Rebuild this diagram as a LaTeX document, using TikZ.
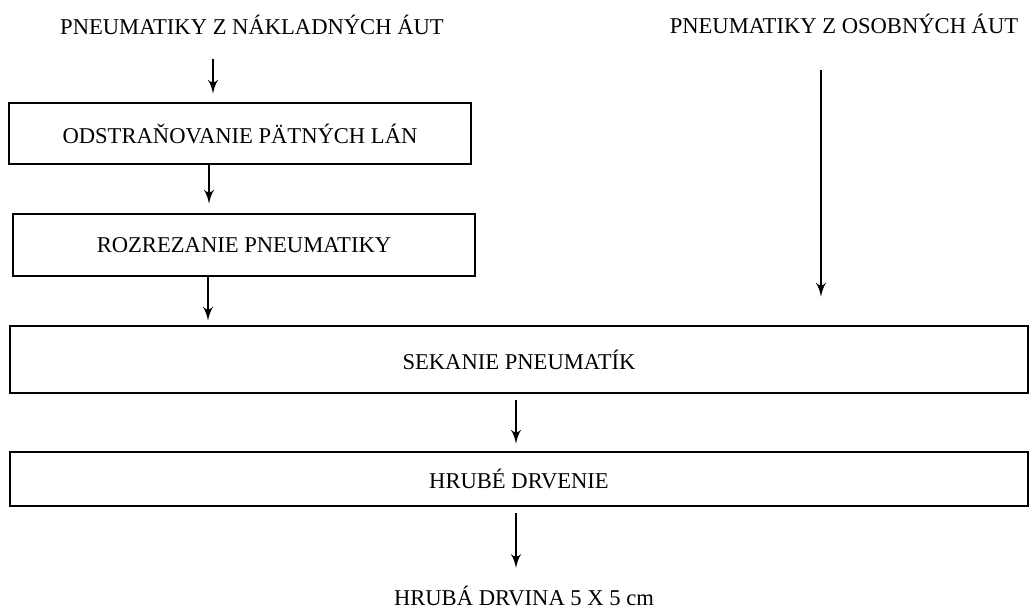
\documentclass[tikz,border=0pt]{standalone}
\usepackage{fontspec}
\setmainfont{Liberation Serif}
\usetikzlibrary{arrows}

\begin{document}
\begin{tikzpicture}[x=0.5pt,y=-0.5pt,>=latex',
  box/.style={draw,line width=1.3pt,inner sep=0pt},
  flow/.style={->,line width=1.4pt},
  font=\fontsize{11.3}{13}\selectfont]

\useasboundingbox (0,0) rectangle (1030,609);

\node(truck) at (252,25) {PNEUMATIKY Z NÁKLADNÝCH ÁUT};
\node(car) at (844,24) {PNEUMATIKY Z OSOBNÝCH ÁUT};

\node(bead) at (240,133.5) [box,minimum width=231pt,minimum height=30.5pt]{ODSTRAŇOVANIE PÄTNÝCH LÁN};
\node(cut) at (244,245) [box,minimum width=231pt,minimum height=31pt]{ROZREZANIE PNEUMATIKY};
\node(chop) at (519,359.5) [box,minimum width=509pt,minimum height=33.5pt]{SEKANIE PNEUMATÍK};
\node(crush) at (519,479) [box,minimum width=509pt,minimum height=27pt]{HRUBÉ DRVENIE};
\node(coarse) at (524,606) [anchor=base]{HRUBÁ DRVINA 5 X 5 cm};

\coordinate (c1) at (213,59);
\coordinate (c2) at (209,0);
\coordinate (c3) at (208,0);
\coordinate (c4) at (821,70);
\coordinate (c5) at (516,0);
\coordinate (c6) at (516,568);

\draw[flow,shorten >=4pt] (c1) -- (c1 |- bead.north);
\draw[flow,shorten >=4.5pt] (c2 |- bead.south) -- (c2 |- cut.north);
\draw[flow,shorten >=2pt] (c3 |- cut.south) -- (c3 |- chop.north);
\draw[flow,shorten >=14pt] (c4) -- (c4 |- chop.north);
\draw[flow,shorten <=3pt,shorten >=3.5pt] (c5 |- chop.south) -- (c5 |- crush.north);
\draw[flow,shorten <=3pt] (c5 |- crush.south) -- (c6);

\end{tikzpicture}
\end{document}
